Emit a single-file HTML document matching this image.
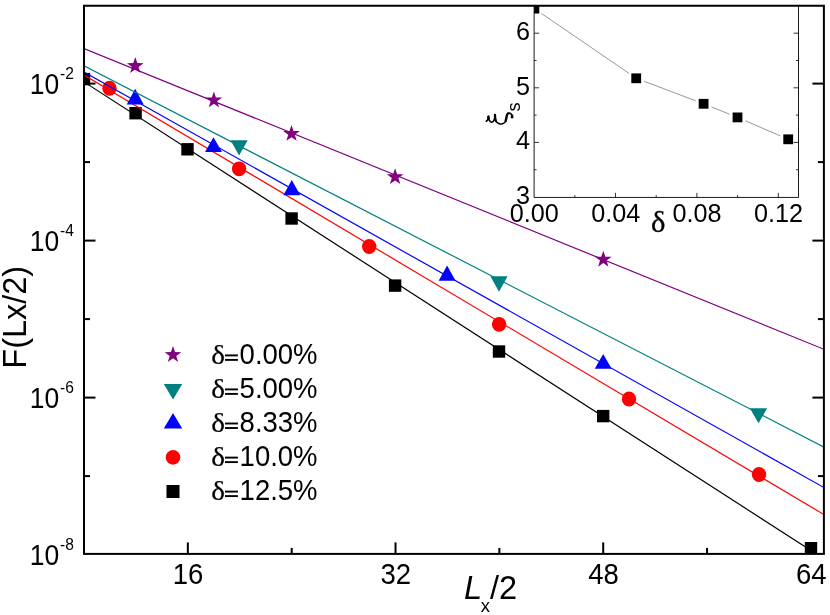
<!DOCTYPE html>
<html><head><meta charset="utf-8"><title>chart</title>
<style>html,body{margin:0;padding:0;background:#fff;}svg{display:block;will-change:transform;}text{font-family:"Liberation Sans",sans-serif;fill:#000;}.sf{font-family:"Liberation Serif",serif;}</style></head><body>
<svg width="830" height="615" viewBox="0 0 830 615">
<rect x="0" y="0" width="830" height="615" fill="#fff"/>
<defs><clipPath id="cm"><rect x="84.0" y="5.75" width="739.9" height="548.15"/></clipPath><clipPath id="ci"><rect x="534.1" y="5.9" width="264.4" height="191.54999999999998"/></clipPath></defs>
<g clip-path="url(#cm)">
<line x1="84" y1="81.9" x2="811" y2="550.5" stroke="#000" stroke-width="1.2"/>
<rect x="77.80" y="72.90" width="12.4" height="12.4" fill="#000"/>
<rect x="129.40" y="107.00" width="12.4" height="12.4" fill="#000"/>
<rect x="181.30" y="143.10" width="12.4" height="12.4" fill="#000"/>
<rect x="285.40" y="212.30" width="12.4" height="12.4" fill="#000"/>
<rect x="388.90" y="279.40" width="12.4" height="12.4" fill="#000"/>
<rect x="492.80" y="345.30" width="12.4" height="12.4" fill="#000"/>
<rect x="597.00" y="409.90" width="12.4" height="12.4" fill="#000"/>
<rect x="804.80" y="542.00" width="12.4" height="12.4" fill="#000"/>
<line x1="84" y1="75.1" x2="824" y2="514.6" stroke="#ff0000" stroke-width="1.2"/>
<ellipse cx="109.5" cy="88.25" rx="7.2" ry="7.45" fill="#ff0000"/>
<ellipse cx="239.1" cy="168.85" rx="7.2" ry="7.45" fill="#ff0000"/>
<ellipse cx="369.2" cy="246.55" rx="7.2" ry="7.45" fill="#ff0000"/>
<ellipse cx="499.1" cy="324.35" rx="7.2" ry="7.45" fill="#ff0000"/>
<ellipse cx="629" cy="399.05" rx="7.2" ry="7.45" fill="#ff0000"/>
<ellipse cx="759" cy="474.55" rx="7.2" ry="7.45" fill="#ff0000"/>
<line x1="84" y1="72.1" x2="824" y2="487.6" stroke="#0000ff" stroke-width="1.2"/>
<polygon points="135.20000000000002,88.8 143.65,104.45 126.75000000000001,104.45" fill="#0000ff"/>
<polygon points="213.5,137.3 221.95,151.95000000000002 205.05,151.95000000000002" fill="#0000ff"/>
<polygon points="291.8,179.9 300.25,195.25 283.35,195.25" fill="#0000ff"/>
<polygon points="447.1,265.5 455.55,280.65000000000003 438.65000000000003,280.65000000000003" fill="#0000ff"/>
<polygon points="603.1999999999999,354.1 611.65,368.85 594.7499999999999,368.85" fill="#0000ff"/>
<line x1="84" y1="65.9" x2="824" y2="447.1" stroke="#008080" stroke-width="1.2"/>
<polygon points="230.50000000000003,140.2 247.70000000000002,140.2 239.10000000000002,155.5" fill="#008080"/>
<polygon points="490.4,276.2 507.6,276.2 499.0,291.70000000000005" fill="#008080"/>
<polygon points="749.9,408.3 767.1,408.3 758.5,423.3" fill="#008080"/>
<line x1="84" y1="48.6" x2="824" y2="349.3" stroke="#800080" stroke-width="1.2"/>
<polygon points="135.30,57.05 137.32,63.07 143.67,63.13 138.56,66.91 140.47,72.97 135.30,69.28 130.13,72.97 132.04,66.91 126.93,63.13 133.28,63.07" fill="#800080"/>
<polygon points="213.90,91.45 215.92,97.47 222.27,97.53 217.16,101.31 219.07,107.37 213.90,103.68 208.73,107.37 210.64,101.31 205.53,97.53 211.88,97.47" fill="#800080"/>
<polygon points="291.50,124.95 293.52,130.97 299.87,131.03 294.76,134.81 296.67,140.87 291.50,137.18 286.33,140.87 288.24,134.81 283.13,131.03 289.48,130.97" fill="#800080"/>
<polygon points="395.10,168.15 397.12,174.17 403.47,174.23 398.36,178.01 400.27,184.07 395.10,180.38 389.93,184.07 391.84,178.01 386.73,174.23 393.08,174.17" fill="#800080"/>
<polygon points="603.30,250.75 605.32,256.77 611.67,256.83 606.56,260.61 608.47,266.67 603.30,262.98 598.13,266.67 600.04,260.61 594.93,256.83 601.28,256.77" fill="#800080"/>
</g>
<rect x="84.0" y="5.75" width="739.9" height="548.15" fill="none" stroke="#000" stroke-width="2"/>
<line x1="84.0" y1="83.6" x2="95.5" y2="83.6" stroke="#000" stroke-width="2"/>
<line x1="823.9" y1="83.6" x2="812.4" y2="83.6" stroke="#000" stroke-width="2"/>
<line x1="84.0" y1="162.1" x2="90.0" y2="162.1" stroke="#000" stroke-width="2"/>
<line x1="823.9" y1="162.1" x2="817.9" y2="162.1" stroke="#000" stroke-width="2"/>
<line x1="84.0" y1="240.6" x2="95.5" y2="240.6" stroke="#000" stroke-width="2"/>
<line x1="823.9" y1="240.6" x2="812.4" y2="240.6" stroke="#000" stroke-width="2"/>
<line x1="84.0" y1="319.1" x2="90.0" y2="319.1" stroke="#000" stroke-width="2"/>
<line x1="823.9" y1="319.1" x2="817.9" y2="319.1" stroke="#000" stroke-width="2"/>
<line x1="84.0" y1="397.6" x2="95.5" y2="397.6" stroke="#000" stroke-width="2"/>
<line x1="823.9" y1="397.6" x2="812.4" y2="397.6" stroke="#000" stroke-width="2"/>
<line x1="84.0" y1="476.1" x2="90.0" y2="476.1" stroke="#000" stroke-width="2"/>
<line x1="823.9" y1="476.1" x2="817.9" y2="476.1" stroke="#000" stroke-width="2"/>
<line x1="187.84" y1="553.9" x2="187.84" y2="542.4" stroke="#000" stroke-width="2"/>
<line x1="291.68" y1="553.9" x2="291.68" y2="547.9" stroke="#000" stroke-width="2"/>
<line x1="395.52" y1="553.9" x2="395.52" y2="542.4" stroke="#000" stroke-width="2"/>
<line x1="499.36" y1="553.9" x2="499.36" y2="547.9" stroke="#000" stroke-width="2"/>
<line x1="603.20" y1="553.9" x2="603.20" y2="542.4" stroke="#000" stroke-width="2"/>
<line x1="707.04" y1="553.9" x2="707.04" y2="547.9" stroke="#000" stroke-width="2"/>
<line x1="810.88" y1="553.9" x2="810.88" y2="542.4" stroke="#000" stroke-width="2"/>
<text transform="translate(59.3,93.8) scale(1,1.1)" font-size="26.5" text-anchor="end">10</text>
<text transform="translate(60.1,79.2) scale(1,1.06)" font-size="15.6" text-anchor="start">-2</text>
<text transform="translate(59.3,250.8) scale(1,1.1)" font-size="26.5" text-anchor="end">10</text>
<text transform="translate(60.1,236.2) scale(1,1.06)" font-size="15.6" text-anchor="start">-4</text>
<text transform="translate(59.3,407.8) scale(1,1.1)" font-size="26.5" text-anchor="end">10</text>
<text transform="translate(60.1,393.2) scale(1,1.06)" font-size="15.6" text-anchor="start">-6</text>
<text transform="translate(59.3,564.8) scale(1,1.1)" font-size="26.5" text-anchor="end">10</text>
<text transform="translate(60.1,550.2) scale(1,1.06)" font-size="15.6" text-anchor="start">-8</text>
<text transform="translate(188.1,583.5) scale(1,1.06)" font-size="27.5" text-anchor="middle">16</text>
<text transform="translate(395.8,583.5) scale(1,1.06)" font-size="27.5" text-anchor="middle">32</text>
<text transform="translate(603.5,583.5) scale(1,1.06)" font-size="27.5" text-anchor="middle">48</text>
<text transform="translate(811.2,583.5) scale(1,1.06)" font-size="27.5" text-anchor="middle">64</text>
<text transform="translate(26.3,368.7) rotate(-90) scale(1,1.04)" font-size="32.5" text-anchor="start">F(Lx/2)</text>
<text transform="translate(464.1,598.8) scale(1,1.04)" font-size="32.5" text-anchor="start"><tspan font-style="italic">L</tspan><tspan font-size="18.5" dx="-1.3" dy="12.6">x</tspan><tspan dx="-0.2" dy="-12.6">/2</tspan></text>
<polygon points="173.00,346.10 175.02,352.12 181.37,352.18 176.26,355.96 178.17,362.02 173.00,358.33 167.83,362.02 169.74,355.96 164.63,352.18 170.98,352.12" fill="#800080"/>
<polygon points="163.8,384.1 182.2,384.1 173,399.5" fill="#008080"/>
<polygon points="173,413.0 182.2,428.4 163.8,428.4" fill="#0000ff"/>
<ellipse cx="173" cy="457.40" rx="7.3" ry="7.3" fill="#ff0000"/>
<rect x="166.50" y="485.00" width="13.0" height="13.0" fill="#000"/>
<text class="sf" transform="translate(211.2,364.2) scale(1.11,1.0)" font-size="26.3" stroke="#000" stroke-width="0.25">δ</text>
<rect x="225.0" y="354.45" width="12.9" height="1.9" fill="#000"/>
<rect x="225.0" y="358.95" width="12.9" height="1.9" fill="#000"/>
<text transform="translate(239.6,364) scale(1,1.06)" font-size="27.5" text-anchor="start">0.00%</text>
<text class="sf" transform="translate(211.2,398.2) scale(1.11,1.0)" font-size="26.3" stroke="#000" stroke-width="0.25">δ</text>
<rect x="225.0" y="388.45" width="12.9" height="1.9" fill="#000"/>
<rect x="225.0" y="392.95" width="12.9" height="1.9" fill="#000"/>
<text transform="translate(239.6,398) scale(1,1.06)" font-size="27.5" text-anchor="start">5.00%</text>
<text class="sf" transform="translate(211.2,432.3) scale(1.11,1.0)" font-size="26.3" stroke="#000" stroke-width="0.25">δ</text>
<rect x="225.0" y="422.55" width="12.9" height="1.9" fill="#000"/>
<rect x="225.0" y="427.05" width="12.9" height="1.9" fill="#000"/>
<text transform="translate(239.6,432.1) scale(1,1.06)" font-size="27.5" text-anchor="start">8.33%</text>
<text class="sf" transform="translate(211.2,466.4) scale(1.11,1.0)" font-size="26.3" stroke="#000" stroke-width="0.25">δ</text>
<rect x="225.0" y="456.65" width="12.9" height="1.9" fill="#000"/>
<rect x="225.0" y="461.15" width="12.9" height="1.9" fill="#000"/>
<text transform="translate(239.6,466.2) scale(1,1.06)" font-size="27.5" text-anchor="start">10.0%</text>
<text class="sf" transform="translate(211.2,500.4) scale(1.11,1.0)" font-size="26.3" stroke="#000" stroke-width="0.25">δ</text>
<rect x="225.0" y="490.65" width="12.9" height="1.9" fill="#000"/>
<rect x="225.0" y="495.15" width="12.9" height="1.9" fill="#000"/>
<text transform="translate(239.6,500.2) scale(1,1.06)" font-size="27.5" text-anchor="start">12.5%</text>
<path d="M534.1,5.9 V197.45 H798.5 V5.9" fill="none" stroke="#000" stroke-width="0.9"/>
<line x1="534.1" y1="169.7" x2="536.6" y2="169.7" stroke="#000" stroke-width="0.8"/>
<line x1="798.5" y1="169.7" x2="796.0" y2="169.7" stroke="#000" stroke-width="0.8"/>
<line x1="534.1" y1="142.4" x2="539.1" y2="142.4" stroke="#000" stroke-width="0.8"/>
<line x1="798.5" y1="142.4" x2="793.5" y2="142.4" stroke="#000" stroke-width="0.8"/>
<line x1="534.1" y1="115.1" x2="536.6" y2="115.1" stroke="#000" stroke-width="0.8"/>
<line x1="798.5" y1="115.1" x2="796.0" y2="115.1" stroke="#000" stroke-width="0.8"/>
<line x1="534.1" y1="87.8" x2="539.1" y2="87.8" stroke="#000" stroke-width="0.8"/>
<line x1="798.5" y1="87.8" x2="793.5" y2="87.8" stroke="#000" stroke-width="0.8"/>
<line x1="534.1" y1="60.5" x2="536.6" y2="60.5" stroke="#000" stroke-width="0.8"/>
<line x1="798.5" y1="60.5" x2="796.0" y2="60.5" stroke="#000" stroke-width="0.8"/>
<line x1="534.1" y1="33.2" x2="539.1" y2="33.2" stroke="#000" stroke-width="0.8"/>
<line x1="798.5" y1="33.2" x2="793.5" y2="33.2" stroke="#000" stroke-width="0.8"/>
<line x1="574.8" y1="197.45" x2="574.8" y2="195.14999999999998" stroke="#000" stroke-width="0.8"/>
<line x1="615.5" y1="197.45" x2="615.5" y2="192.85" stroke="#000" stroke-width="0.8"/>
<line x1="656.2" y1="197.45" x2="656.2" y2="195.14999999999998" stroke="#000" stroke-width="0.8"/>
<line x1="696.9" y1="197.45" x2="696.9" y2="192.85" stroke="#000" stroke-width="0.8"/>
<line x1="737.6" y1="197.45" x2="737.6" y2="195.14999999999998" stroke="#000" stroke-width="0.8"/>
<line x1="778.3" y1="197.45" x2="778.3" y2="192.85" stroke="#000" stroke-width="0.8"/>
<text transform="translate(529.9,204.0) scale(1,1.06)" font-size="25.2" text-anchor="end">3</text>
<text transform="translate(529.9,149.4) scale(1,1.06)" font-size="25.2" text-anchor="end">4</text>
<text transform="translate(529.9,94.8) scale(1,1.06)" font-size="25.2" text-anchor="end">5</text>
<text transform="translate(529.9,40.2) scale(1,1.06)" font-size="25.2" text-anchor="end">6</text>
<text transform="translate(534.3,221.6) scale(1,1.06)" font-size="25.2" text-anchor="middle">0.00</text>
<text transform="translate(615.7,221.6) scale(1,1.06)" font-size="25.2" text-anchor="middle">0.04</text>
<text transform="translate(697.1,221.6) scale(1,1.06)" font-size="25.2" text-anchor="middle">0.08</text>
<text transform="translate(778.5,221.6) scale(1,1.06)" font-size="25.2" text-anchor="middle">0.12</text>
<text class="sf" transform="translate(650.9,231.7) scale(1.07,1.0)" font-size="28.7" stroke="#000" stroke-width="0.3">δ</text>
<g fill="none" stroke="#000" stroke-linecap="round" stroke-linejoin="round"><path stroke-width="1.6" d="M486.3,121.2 C487.6,120.7 488.3,118.6 488.4,116.3 C488.6,119 489.5,121.6 491.3,122.2 C493.6,122.8 494.8,119 495.0,114.8 C495.0,118 495.2,120.6 496.6,122.1 C498,123.8 500,124.2 501.6,124 C504,123.6 506,121.6 506.3,119 C506.6,116.4 506.6,113.3 508.7,113.1 C510.6,113 512.2,114.3 512.2,117.1"/><path stroke-width="2.3" d="M495.0,115.0 C495.0,117.5 495.1,119.3 495.6,120.6"/><path stroke-width="2.3" d="M505.6,121 C506.6,118.5 506.2,114.5 508,113.4"/><path stroke-width="2.4" d="M488.4,116.6 L488.6,118.2"/><path stroke-width="2.6" d="M512.1,115.8 L512.1,117.2"/></g>
<text transform="translate(519.9,111.6) rotate(-90) scale(1,1.0)" font-size="18.4" text-anchor="start">s</text>
<g clip-path="url(#ci)">
<line x1="541.41" y1="13.40" x2="629.19" y2="73.50" stroke="#606060" stroke-width="0.65"/>
<line x1="644.15" y1="81.31" x2="695.65" y2="100.79" stroke="#606060" stroke-width="0.65"/>
<line x1="711.49" y1="106.96" x2="729.61" y2="114.24" stroke="#606060" stroke-width="0.65"/>
<line x1="745.30" y1="120.77" x2="780.40" y2="135.93" stroke="#606060" stroke-width="0.65"/>
<rect x="529.50" y="3.70" width="9.8" height="9.8" fill="#000"/>
<rect x="631.30" y="73.40" width="9.8" height="9.8" fill="#000"/>
<rect x="698.70" y="98.90" width="9.8" height="9.8" fill="#000"/>
<rect x="732.60" y="112.50" width="9.8" height="9.8" fill="#000"/>
<rect x="783.30" y="134.40" width="9.8" height="9.8" fill="#000"/>
</g>
</svg></body></html>
